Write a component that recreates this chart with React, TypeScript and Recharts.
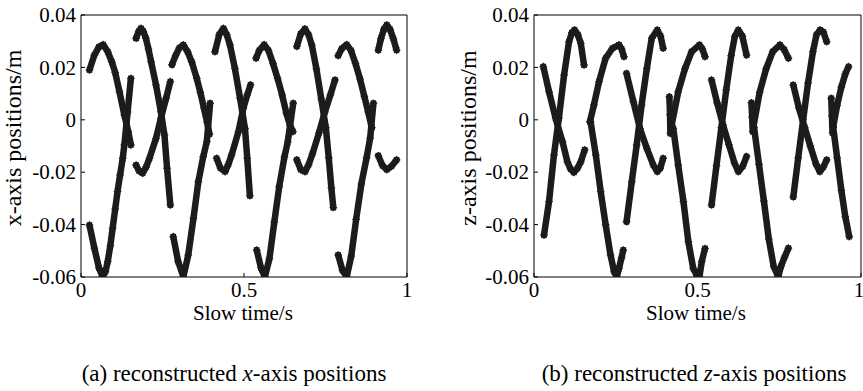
import React from 'react'
import { ScatterChart, Scatter, XAxis, YAxis } from 'recharts'

type Pt = [number, number]

// slow time ticks / position ticks
const T_TICKS = [0, 0.5, 1]
const Y_TICKS = [-0.06, -0.04, -0.02, 0, 0.02, 0.04]

// (a) x-axis positions
const xUpperArch: Pt[][] = [
  [[0.026, 0.019], [0.041, 0.0247], [0.055, 0.0278], [0.068, 0.0287], [0.082, 0.026], [0.095, 0.022], [0.105, 0.018], [0.118, 0.0107], [0.133, 0.0018], [0.145, -0.0045], [0.153, -0.0096]],
  [[0.279, 0.021], [0.29, 0.0245], [0.302, 0.0275], [0.314, 0.0286], [0.327, 0.026], [0.34, 0.022], [0.355, 0.0158], [0.366, 0.0105], [0.377, 0.0045], [0.387, -0.001], [0.394, -0.0055]],
  [[0.537, 0.0235], [0.547, 0.0265], [0.562, 0.0287], [0.575, 0.0265], [0.589, 0.0215], [0.603, 0.0158], [0.617, 0.0095], [0.63, 0.0025], [0.641, -0.002], [0.65, -0.0045]],
  [[0.789, 0.0245], [0.8, 0.0272], [0.815, 0.0287], [0.828, 0.0265], [0.842, 0.0215], [0.856, 0.0155], [0.869, 0.009], [0.881, 0.003], [0.892, -0.003]],
]

const xDeepValley: Pt[][] = [
  [[0.026, -0.0402], [0.041, -0.049], [0.055, -0.0565], [0.066, -0.0599], [0.075, -0.058], [0.082, -0.0541], [0.09, -0.048], [0.097, -0.0414], [0.105, -0.034], [0.112, -0.0274], [0.12, -0.021], [0.128, -0.0147], [0.133, -0.0096], [0.143, 0.003], [0.153, 0.0158]],
  [[0.283, -0.0446], [0.298, -0.0541], [0.314, -0.0599], [0.329, -0.0516], [0.345, -0.0376], [0.36, -0.0236], [0.375, -0.0141], [0.386, -0.0083], [0.396, 0.0063]],
  [[0.539, -0.0497], [0.552, -0.0565], [0.564, -0.0599], [0.578, -0.053], [0.593, -0.039], [0.608, -0.0255], [0.624, -0.0142], [0.634, -0.0085], [0.651, 0.0063]],
  [[0.789, -0.0516], [0.802, -0.0575], [0.815, -0.0599], [0.829, -0.052], [0.844, -0.038], [0.86, -0.0245], [0.876, -0.0145], [0.887, -0.007], [0.897, 0.0063]],
]

const xHighArch: Pt[][] = [
  [[0.169, 0.0311], [0.177, 0.0338], [0.184, 0.0349], [0.191, 0.0338], [0.199, 0.0311], [0.207, 0.027], [0.215, 0.0222], [0.23, 0.0133], [0.245, 0.0031], [0.256, -0.0058], [0.264, -0.0185], [0.274, -0.0325]],
  [[0.411, 0.026], [0.424, 0.0325], [0.437, 0.0349], [0.447, 0.0325], [0.457, 0.0286], [0.472, 0.0196], [0.488, 0.0082], [0.503, -0.0033], [0.51, -0.0147], [0.518, -0.029]],
  [[0.662, 0.028], [0.674, 0.0328], [0.687, 0.0347], [0.698, 0.0325], [0.708, 0.0285], [0.722, 0.0195], [0.737, 0.008], [0.751, -0.003], [0.76, -0.0145], [0.768, -0.026], [0.774, -0.0335]],
  [[0.912, 0.0266], [0.92, 0.031], [0.929, 0.0345], [0.938, 0.0362], [0.948, 0.0345], [0.958, 0.031], [0.968, 0.0266]],
]

const xShallowDip: Pt[][] = [
  [[0.169, -0.0173], [0.178, -0.0195], [0.189, -0.0204], [0.2, -0.018], [0.21, -0.0147], [0.23, -0.0071], [0.245, 0.0006], [0.261, 0.0082], [0.274, 0.0146]],
  [[0.416, -0.0147], [0.428, -0.0185], [0.442, -0.0198], [0.452, -0.017], [0.462, -0.0134], [0.483, -0.0045], [0.498, 0.0044], [0.51, 0.0095], [0.52, 0.0133]],
  [[0.662, -0.0153], [0.674, -0.019], [0.687, -0.0198], [0.698, -0.0172], [0.71, -0.013], [0.73, -0.005], [0.748, 0.003], [0.765, 0.0095], [0.779, 0.0152]],
  [[0.912, -0.0137], [0.925, -0.0175], [0.938, -0.019], [0.952, -0.0178], [0.968, -0.0153]],
]

// (b) z-axis positions
const zFallingDip: Pt[][] = [
  [[0.0285, 0.0203], [0.046, 0.0107], [0.066, 0.0006], [0.087, -0.0083], [0.102, -0.016], [0.112, -0.0188], [0.122, -0.0201], [0.133, -0.0185], [0.143, -0.016], [0.155, -0.0115]],
  [[0.283, 0.0177], [0.304, 0.0069], [0.324, -0.0033], [0.345, -0.0109], [0.365, -0.0173], [0.377, -0.0198], [0.386, -0.0185], [0.395, -0.0147]],
  [[0.543, 0.0152], [0.56, 0.0065], [0.578, -0.002], [0.596, -0.0095], [0.613, -0.0165], [0.625, -0.0198], [0.638, -0.0178], [0.65, -0.014]],
  [[0.793, 0.0133], [0.81, 0.0045], [0.828, -0.003], [0.845, -0.01], [0.862, -0.0168], [0.874, -0.0198], [0.885, -0.018], [0.895, -0.0153]],
]

const zRisingArch: Pt[][] = [
  [[0.0306, -0.044], [0.046, -0.0312], [0.061, -0.0134], [0.076, 0.0006], [0.092, 0.0171], [0.107, 0.0298], [0.116, 0.0333], [0.124, 0.0343], [0.134, 0.0325], [0.143, 0.0292], [0.153, 0.0209]],
  [[0.283, -0.0389], [0.299, -0.0236], [0.314, -0.0096], [0.329, 0.0056], [0.345, 0.0196], [0.36, 0.0311], [0.377, 0.0343], [0.387, 0.032], [0.395, 0.0273]],
  [[0.543, -0.0325], [0.558, -0.0175], [0.573, -0.003], [0.588, 0.0115], [0.603, 0.0245], [0.614, 0.0318], [0.625, 0.0343], [0.637, 0.032], [0.65, 0.0247]],
  [[0.793, -0.0294], [0.808, -0.0145], [0.823, 0.0], [0.838, 0.014], [0.853, 0.026], [0.864, 0.0325], [0.875, 0.0343], [0.885, 0.0335], [0.895, 0.0298]],
]

const zStub: Pt[][] = [
  [[0.414, 0.0088], [0.416, 0.002], [0.417, -0.0052]],
  [[0.665, 0.0065], [0.667, 0.001], [0.669, -0.0045]],
  [[0.909, 0.0082], [0.911, 0.0015], [0.913, -0.005]],
]

const zLowArch: Pt[][] = [
  [[0.171, -0.0007], [0.183, 0.0056], [0.199, 0.0146], [0.219, 0.0235], [0.24, 0.0273], [0.26, 0.0286], [0.268, 0.027], [0.275, 0.0241]],
  [[0.421, -0.002], [0.441, 0.0107], [0.462, 0.0196], [0.482, 0.026], [0.506, 0.0286], [0.515, 0.027], [0.523, 0.0241]],
  [[0.671, -0.0026], [0.69, 0.0105], [0.71, 0.0195], [0.73, 0.026], [0.752, 0.0286], [0.765, 0.0268], [0.778, 0.0235]],
  [[0.915, -0.0026], [0.927, 0.0055], [0.94, 0.0125], [0.952, 0.0175], [0.962, 0.0203]],
]

const zDeepFall: Pt[][] = [
  [[0.173, -0.0007], [0.189, -0.0134], [0.204, -0.0274], [0.219, -0.04], [0.234, -0.0516], [0.245, -0.058], [0.253, -0.0599], [0.26, -0.0567], [0.268, -0.0525], [0.273, -0.0497]],
  [[0.426, -0.0033], [0.441, -0.0173], [0.457, -0.0312], [0.472, -0.0465], [0.487, -0.0567], [0.498, -0.0595], [0.506, -0.0599], [0.513, -0.0541], [0.523, -0.0491]],
  [[0.673, -0.003], [0.688, -0.017], [0.703, -0.031], [0.718, -0.0455], [0.733, -0.056], [0.747, -0.0599], [0.755, -0.056], [0.766, -0.0525], [0.778, -0.049]],
  [[0.915, -0.003], [0.927, -0.0145], [0.94, -0.027], [0.952, -0.037], [0.964, -0.0446]],
]

const xSegments = [...xUpperArch, ...xDeepValley, ...xHighArch, ...xShallowDip]
const zSegments = [...zFallingDip, ...zRisingArch, ...zStub, ...zLowArch, ...zDeepFall]

const INK = '#1c1c1c'
const FONT = "'Liberation Serif', 'Times New Roman', Times, serif"

// matlab style '*' marker
// eslint-disable-next-line @typescript-eslint/no-explicit-any
function Star({ cx, cy }: any) {
  if (cx == null || cy == null) return null
  const r = 3.8
  const d = r * 0.7
  return (
    <g stroke={INK} strokeWidth={1.2}>
      <line x1={cx - r} y1={cy} x2={cx + r} y2={cy} />
      <line x1={cx} y1={cy - r} x2={cx} y2={cy + r} />
      <line x1={cx - d} y1={cy - d} x2={cx + d} y2={cy + d} />
      <line x1={cx - d} y1={cy + d} x2={cx + d} y2={cy - d} />
    </g>
  )
}

// serif tick labels
// eslint-disable-next-line @typescript-eslint/no-explicit-any
function TimeTick({ x, y, payload }: any) {
  return (
    <text x={x} y={y} dy="0.72em" textAnchor="middle" fontSize={21} fontFamily={FONT} fill="#000">
      {payload.value}
    </text>
  )
}

// eslint-disable-next-line @typescript-eslint/no-explicit-any
function PosTick({ x, y, payload }: any) {
  return (
    <text x={x} y={y} dy="0.34em" textAnchor="end" fontSize={21} fontFamily={FONT} fill="#000">
      {payload.value}
    </text>
  )
}

function Panel({ segments, width, marginLeft, marginRight }: {
  segments: Pt[][]
  width: number
  marginLeft: number
  marginRight: number
}) {
  return (
    <ScatterChart
      width={width}
      height={330}
      margin={{ top: 14, right: marginRight, bottom: 33, left: marginLeft }}
    >
      <XAxis
        xAxisId="b"
        dataKey="t"
        type="number"
        domain={[0, 1]}
        ticks={T_TICKS}
        allowDataOverflow
        height={20}
        stroke="#000"
        tickSize={-4}
        tickMargin={9}
        tick={<TimeTick />}
      />
      <XAxis
        xAxisId="top"
        orientation="top"
        type="number"
        domain={[0, 1]}
        ticks={T_TICKS}
        allowDataOverflow
        height={1}
        stroke="#000"
        tickSize={-4}
        tick={false}
      />
      <YAxis
        yAxisId="l"
        dataKey="v"
        type="number"
        domain={[-0.06, 0.04]}
        ticks={Y_TICKS}
        allowDataOverflow
        width={60}
        stroke="#000"
        tickSize={-4}
        tickMargin={9}
        tick={<PosTick />}
      />
      <YAxis
        yAxisId="r"
        orientation="right"
        type="number"
        domain={[-0.06, 0.04]}
        ticks={Y_TICKS}
        allowDataOverflow
        width={1}
        stroke="#000"
        tickSize={-4}
        tick={false}
      />
      {segments.map((seg, i) => (
        <Scatter
          key={i}
          xAxisId="b"
          yAxisId="l"
          data={seg.map(([t, v]) => ({ t, v }))}
          fill={INK}
          line={{ stroke: INK, strokeWidth: 6.5, strokeLinejoin: 'round', strokeLinecap: 'round' }}
          shape={<Star />}
          isAnimationActive={false}
        />
      ))}
    </ScatterChart>
  )
}

export default function App() {
  return (
    <div style={{ position: 'absolute', left: 0, top: 0, width: 863, height: 391, background: '#fff', overflow: 'hidden' }}>
      <div style={{ position: 'absolute', left: 0, top: 0 }}>
        <Panel segments={xSegments} width={430} marginLeft={21} marginRight={22} />
      </div>
      <div style={{ position: 'absolute', left: 430, top: 0 }}>
        <Panel segments={zSegments} width={433} marginLeft={44} marginRight={1} />
      </div>
      <svg
        width={863}
        height={391}
        style={{ position: 'absolute', left: 0, top: 0, pointerEvents: 'none' }}
        fontFamily={FONT}
      >
        <text x={21} y={138} fontSize={24} textAnchor="middle" transform="rotate(-90 21 138)">x-axis positions/m</text>
        <text x={476} y={138} fontSize={24} textAnchor="middle" transform="rotate(-90 476 138)">z-axis positions/m</text>
        <text x={243} y={320} fontSize={21} textAnchor="middle">Slow time/s</text>
        <text x={696} y={320} fontSize={21} textAnchor="middle">Slow time/s</text>
        <text x={234} y={381} fontSize={23} textAnchor="middle">
          (a) reconstructed <tspan fontStyle="italic">x</tspan>-axis positions
        </text>
        <text x={694} y={381} fontSize={23} textAnchor="middle">
          (b) reconstructed <tspan fontStyle="italic">z</tspan>-axis positions
        </text>
      </svg>
    </div>
  )
}
